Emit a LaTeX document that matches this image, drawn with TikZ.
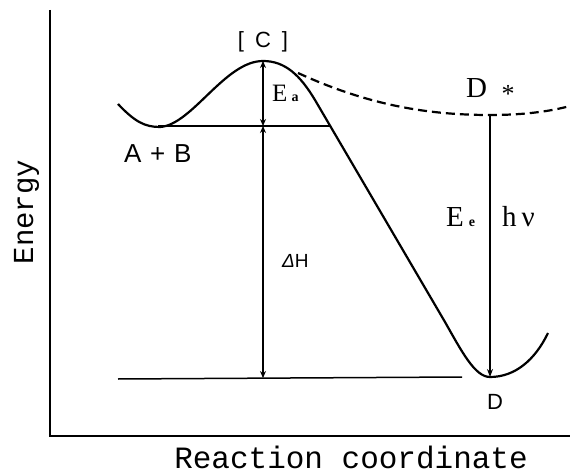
\documentclass[tikz,border=0pt]{standalone}
\usepackage{fontspec}
\usetikzlibrary{arrows.meta}
\newfontfamily\monof{Liberation Mono}
\newfontfamily\serf{Liberation Serif}
\newfontfamily\sanf{Liberation Sans}
\tikzset{
  axis/.style={line width=1.6pt},
  curve/.style={line width=2.2pt, line join=round},
  excited/.style={line width=2.2pt, dash pattern=on 9pt off 5pt},
  level/.style={line width=1.5pt},
  gap/.style={line width=1.2pt, {Stealth[length=7pt,width=6pt]}-{Stealth[length=7pt,width=6pt]}},
  emit/.style={line width=1.2pt, -{Stealth[length=8pt,width=6pt]}},
  axlabel/.style={font=\monof\fontsize{31}{34}\selectfont, inner sep=0pt},
  serlabel/.style={font=\serf\fontsize{29}{32}\selectfont, inner sep=0pt, anchor=base west},
  sanlabel/.style={font=\sanf\fontsize{26}{30}\selectfont, inner sep=0pt, anchor=base west},
}
\newcommand{\smallsub}[1]{{\fontsize{14}{14}\selectfont\bfseries #1}}
\begin{document}
\begin{tikzpicture}[x=1pt,y=-1pt]
\useasboundingbox (0,0) rectangle (570,473);
% axes
\coordinate (ytop) at (50,10);
\coordinate (origin) at (50,436);
\coordinate (xend) at (570,436);
\draw[axis] (ytop) -- (origin) -- (xend);
% key points
\coordinate (peak) at (263,61);
\coordinate (abl) at (158,126);
\coordinate (abm) at (263,126);
\coordinate (abr) at (330,126);
\coordinate (dl) at (118,379);
\coordinate (dm) at (263,378);
\coordinate (dr) at (462,377);
\coordinate (dstar) at (490,115);
\coordinate (dmin) at (490,377);
% ground-state curve
\draw[curve] (118,104) .. controls (135,122) and (145,127) .. (160,127)
  .. controls (192,125) and (225,61) .. (peak)
  .. controls (285,61) and (300,75) .. (315,100)
  -- (445,322)
  .. controls (462,352) and (475,377) .. (dmin)
  .. controls (515,377) and (535,360) .. (548,333);
% excited-state curve
\draw[excited] (298,73) .. controls (370,106) and (430,115) .. (dstar)
  .. controls (530,115) and (555,110) .. (570,106);
% levels
\draw[level] (abl) -- (abr);
\draw[level] (dl) -- (dr);
% arrows
\draw[gap] (peak) -- (abm);
\draw[gap] (abm) -- (dm);
\draw[emit] (dstar) -- (dmin);
% labels
\node[sanlabel, font=\sanf\fontsize{22}{26}\selectfont, anchor=base] (cl) at (263,48) {[\,\,\,C\,\,\,]};
\node[serlabel, font=\serf\fontsize{25}{28}\selectfont] (ea) at (272,102) {E\,\smallsub{a}};
\node[sanlabel] (ab) at (124,163) {A\,\,+\,\,B};
\node[serlabel] (ds) at (466,98) {D\,\,\,\raisebox{-5pt}{\fontsize{26}{26}\selectfont *}};
\node[serlabel] (ee) at (446,226) {E\,\smallsub{e}};
\node[serlabel] (hv) at (502,226) {h\,ν};
\node[sanlabel, font=\sanf\fontsize{19}{22}\selectfont] (dh) at (282,267) {{\itshape Δ}H};
\node[sanlabel, font=\sanf\fontsize{22}{26}\selectfont] (d) at (487,409) {D};
\node[axlabel, anchor=base] (xl) at (351,468) {Reaction coordinate};
\node[axlabel, font=\monof\fontsize{29}{32}\selectfont, rotate=90, anchor=base] (yl) at (33,212) {Energy};
\end{tikzpicture}
\end{document}
